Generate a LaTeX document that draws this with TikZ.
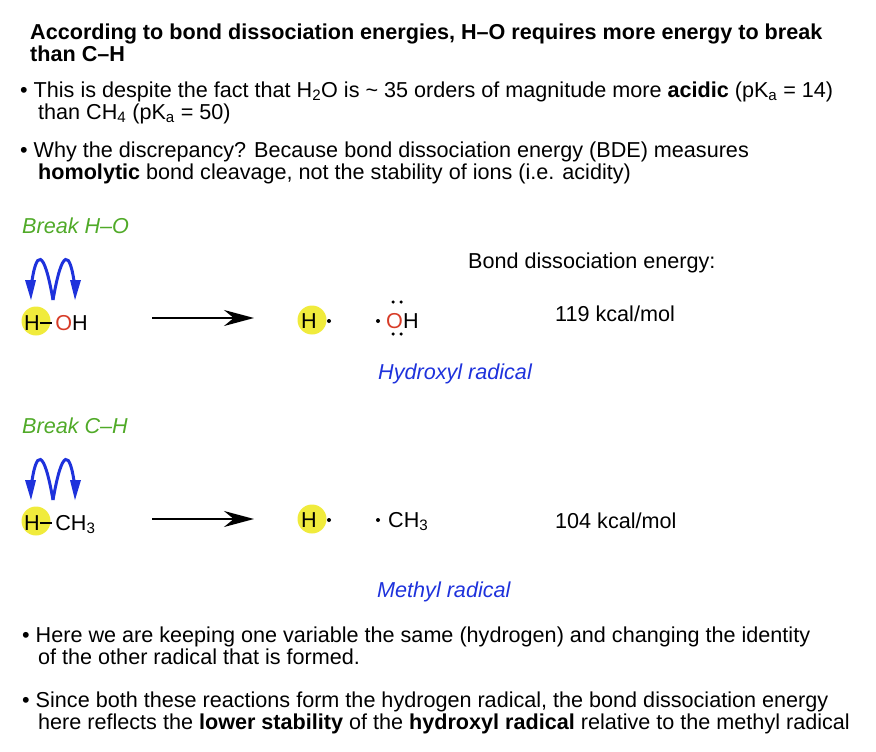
\documentclass[tikz,border=0pt]{standalone}
\usepackage{fontspec}
\setmainfont{Liberation Sans}
\usetikzlibrary{arrows.meta}
\definecolor{grn}{RGB}{80,170,40}
\definecolor{blu}{RGB}{30,50,220}
\definecolor{oxr}{RGB}{215,60,40}
\definecolor{hl}{RGB}{240,235,60}
\begin{document}
\begin{tikzpicture}[x=1pt,y=-1pt,
 txt/.style={anchor=base west,inner sep=0pt,font=\fontsize{21.6}{26}\selectfont},
 lbl/.style={txt,font=\fontsize{21.6}{26}\selectfont\itshape},
 hlc/.style={circle,fill=hl,minimum size=29pt,inner sep=0pt},
 rxn/.style={line width=2pt,-{Stealth[length=30pt,width=16pt]}},
 fish/.style={blu,line width=3pt},
 dot/.style={circle,fill=black,inner sep=0pt,minimum size=4pt}]
\useasboundingbox (0,0) rectangle (876,752);
\node[txt,font=\fontsize{21.6}{26}\selectfont\bfseries] (t1) at (30,40) {According to bond dissociation energies, H–O requires more energy to break};
\node[txt,font=\fontsize{21.6}{26}\selectfont\bfseries] (t2) at (30,62) {than C–H};
\node[txt] (b1) at (20,97) {• This is despite the fact that H\textsubscript{2}O is \char`~\ 35 orders of magnitude more \textbf{acidic} (pK\textsubscript{a} = 14)};
\node[txt] (b1b) at (38,119) {than CH\textsubscript{4} (pK\textsubscript{a} = 50)};
\node[txt] (b2) at (20,157) {• Why the discrepancy? Because bond dissociation energy (BDE) measures};
\node[txt] (b2b) at (38,179) {\textbf{homolytic} bond cleavage, not the stability of ions (i.e. acidity)};
\node[lbl,text=grn] (br1) at (22,233) {Break H–O};
\node[txt] (bde) at (468,268) {Bond dissociation energy:};
% H-OH
\node[hlc] (h1) at (36,321) {};
\node[txt] (hoh) at (24,330) {H\raisebox{6pt}{\rule{12pt}{2pt}}\,\textcolor{oxr}{O}H};
\coordinate (f1) at (53,300);
\draw[fish] (f1) .. controls (44,248) and (36,248) .. (31,288);
\fill[blu] (25,280) -- (31,300) -- (36,280) -- cycle;
\draw[fish] (f1) .. controls (62,248) and (70,248) .. (75,288);
\fill[blu] (70,280) -- (75,300) -- (81,280) -- cycle;
\coordinate (a1s) at (152,318); \coordinate (a1e) at (254,318);
\draw[rxn] (a1s) -- (a1e);
\node[hlc] (h2) at (312,320) {};
\node[txt] (h2t) at (301,328) {H};
\node[dot] (d1) at (329,321) {};
\node[dot] (d2) at (378,321) {};
\node[txt] (oh) at (386,328) {\textcolor{oxr}{O}H};
\node[dot,minimum size=3.5pt] (e1) at (393,302) {}; \node[dot,minimum size=3.5pt] (e2) at (401,302) {};
\node[dot,minimum size=3.5pt] (e3) at (393,334) {}; \node[dot,minimum size=3.5pt] (e4) at (401,334) {};
\node[txt] (k1) at (555,321) {119 kcal/mol};
\node[lbl,text=blu] (hr) at (378,379) {Hydroxyl radical};
\node[lbl,text=grn] (br2) at (22,433) {Break C–H};
% H-CH3
\node[hlc] (h3) at (36,521) {};
\node[txt] (hch) at (24,530) {H\raisebox{6pt}{\rule{12pt}{2pt}}\,CH\textsubscript{3}};
\coordinate (f2) at (53,500);
\draw[fish] (f2) .. controls (44,448) and (36,448) .. (31,488);
\fill[blu] (25,480) -- (31,500) -- (36,480) -- cycle;
\draw[fish] (f2) .. controls (62,448) and (70,448) .. (75,488);
\fill[blu] (70,480) -- (75,500) -- (81,480) -- cycle;
\coordinate (a2s) at (152,519); \coordinate (a2e) at (254,519);
\draw[rxn] (a2s) -- (a2e);
\node[hlc] (h4) at (312,519) {};
\node[txt] (h4t) at (301,527) {H};
\node[dot] (d3) at (329,520) {};
\node[dot] (d4) at (378,520) {};
\node[txt] (ch3) at (388,527) {CH\textsubscript{3}};
\node[txt] (k2) at (555,528) {104 kcal/mol};
\node[lbl,text=blu] (mr) at (377,597) {Methyl radical};
\node[txt] (b3) at (22,642) {• Here we are keeping one variable the same (hydrogen) and changing the identity};
\node[txt] (b3b) at (38,664) {of the other radical that is formed.};
\node[txt] (b4) at (22,707) {• Since both these reactions form the hydrogen radical, the bond dissociation energy};
\node[txt] (b4b) at (38,729) {here reflects the \textbf{lower stability} of the \textbf{hydroxyl radical} relative to the methyl radical};
\end{tikzpicture}
\end{document}
